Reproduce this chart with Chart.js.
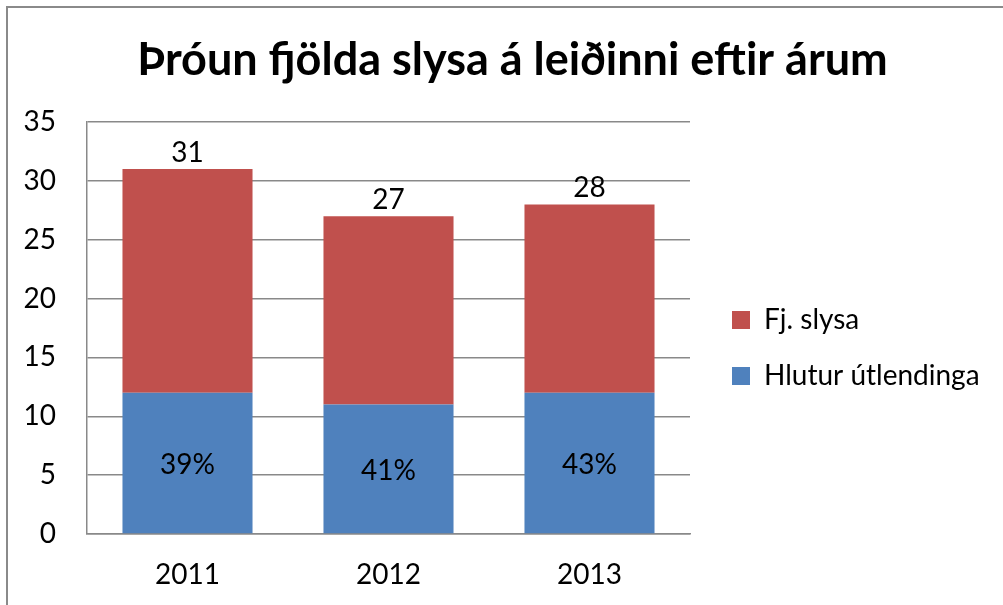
<!DOCTYPE html>
<html>
<head>
<meta charset="utf-8">
<script src="https://cdn.jsdelivr.net/npm/chart.js@4/dist/chart.umd.min.js"></script>
<style>
  html, body { margin: 0; padding: 0; background: #fff; }
  #wrap { width: 1003px; height: 605px; position: relative; }
</style>
</head>
<body>
<div id="wrap"><canvas id="c" width="1003" height="605"></canvas></div>
<script>
// ---- data ----
const categories = ['2011', '2012', '2013'];
const foreignersShare = [12, 11, 12];          // Hlutur útlendinga (blue)
const accidentsRest = [19, 16, 16];            // Fj. slysa (red, stacked on top)
const shareLabels = ['39%', '41%', '43%'];
const yTicks = [0, 5, 10, 15, 20, 25, 30, 35];
const seriesNames = ['Hlutur útlendinga', 'Fj. slysa'];
const titleText = 'Þróun fjölda slysa á leiðinni eftir árum';

const FONT = 'Lato, "Open Sans", sans-serif';
const GRID = '#898989';

const frame = {
  id: 'frame',
  afterDraw(chart) {
    const ctx = chart.ctx;
    ctx.save();
    ctx.strokeStyle = '#8a8a8a';
    ctx.lineWidth = 2;
    ctx.beginPath();
    ctx.moveTo(7, chart.height + 5);
    ctx.lineTo(7, 7);
    ctx.lineTo(chart.width + 5, 7);
    ctx.stroke();
    ctx.restore();
  }
};

const placer = {
  id: 'placer',
  beforeLayout(chart) {
    const lg = chart.legend;
    if (lg && !lg.__patched) {
      const fit = lg.fit.bind(lg);
      lg.fit = function () { fit(); this.width = 313; };
      lg.__patched = true;
    }
  },
  afterLayout(chart) {
    const lg = chart.legend;
    if (lg) {
      const h = lg.height;
      lg.left += 14;
      lg.top = 278;
      lg.bottom = 278 + h;
    }
    const t = chart.titleBlock;
    if (t) { t.left += 11; t.right += 11; }
  }
};

const valueLabels = {
  id: 'valueLabels',
  afterDatasetsDraw(chart) {
    const ctx = chart.ctx;
    const blue = chart.getDatasetMeta(0);
    const red = chart.getDatasetMeta(1);
    ctx.save();
    ctx.fillStyle = '#000';
    ctx.font = '28px ' + FONT;
    ctx.textAlign = 'center';
    ctx.textBaseline = 'alphabetic';
    categories.forEach((c, i) => {
      const rb = red.data[i];
      const total = foreignersShare[i] + accidentsRest[i];
      ctx.fillText(String(total), rb.x, rb.y - 7);
      const bb = blue.data[i];
      const mid = (bb.y + bb.base) / 2;
      ctx.fillText(shareLabels[i], bb.x, mid + 11);
    });
    ctx.restore();
  }
};

new Chart(document.getElementById('c'), {
  type: 'bar',
  data: {
    labels: categories,
    datasets: [
      { label: seriesNames[0], data: foreignersShare, backgroundColor: '#4F81BD', borderWidth: 0 },
      { label: seriesNames[1], data: accidentsRest, backgroundColor: '#C0504D', borderWidth: 0 }
    ]
  },
  options: {
    responsive: false,
    animation: false,
    events: [],
    layout: { padding: 0 },
    datasets: { bar: { barPercentage: 1, categoryPercentage: 0.647 } },
    plugins: {
      title: {
        display: true,
        text: titleText,
        color: '#000',
        font: { family: FONT, size: 45, weight: 'bold', lineHeight: 1.2 },
        padding: { top: 33, bottom: 35 }
      },
      legend: {
        display: true,
        position: 'right',
        align: 'start',
        reverse: true,
        labels: {
          color: '#000',
          font: { family: FONT, size: 28 },
          boxWidth: 18,
          boxHeight: 18,
          padding: 28
        }
      },
      tooltip: { enabled: false }
    },
    scales: {
      x: {
        stacked: true,
        grid: { display: false, drawTicks: false },
        border: { display: true, color: GRID, width: 1.5 },
        ticks: { color: '#000', font: { family: FONT, size: 28 }, padding: 24, maxRotation: 0 },
        afterFit(s) { s.height = 71; }
      },
      y: {
        stacked: true,
        min: 0,
        max: 35,
        afterBuildTicks(s) { s.ticks = yTicks.map(v => ({ value: v })); },
        grid: { color: GRID, lineWidth: 1.5, drawTicks: false },
        border: { display: true, color: GRID, width: 1.5 },
        ticks: { color: '#000', font: { family: FONT, size: 28 }, padding: 31 },
        afterFit(s) { s.width = 87; }
      }
    }
  },
  plugins: [frame, placer, valueLabels]
});
</script>
</body>
</html>
